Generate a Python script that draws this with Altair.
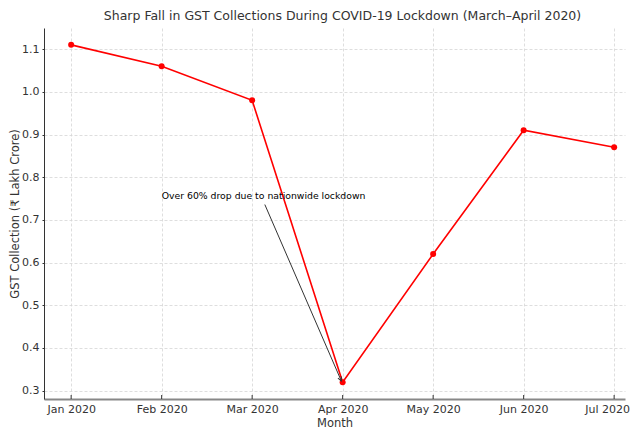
import altair as alt
import pandas as pd

months = ["Jan 2020", "Feb 2020", "Mar 2020", "Apr 2020", "May 2020", "Jun 2020", "Jul 2020"]
gst = [1.11, 1.06, 0.98, 0.32, 0.62, 0.91, 0.87]
y_ticks = [0.3, 0.4, 0.5, 0.6, 0.7, 0.8, 0.9, 1.0, 1.1]

note_text = ["Over 60% drop due to nationwide lockdown"]
note_x = [1.0]
note_y = [0.75]
arrow_x = [2.14]
arrow_y = [0.736]
arrow_x2 = [2.985]
arrow_y2 = [0.323]

FONT = "DejaVu Sans"
W, H = 581, 371

df = pd.DataFrame({"idx": list(range(len(months))), "month": months, "gst": gst})
label_expr = "[" + ",".join(f"'{m}'" for m in months) + "][datum.value]"

xscale = alt.Scale(domain=[-0.3, 6.12], nice=False, zero=False)
yscale = alt.Scale(domain=[0.2805, 1.1495], nice=False, zero=False)

X = alt.X("idx:Q", scale=xscale,
          axis=alt.Axis(values=list(range(7)), labelExpr=label_expr, title="Month",
                        tickSize=0, labelPadding=4, titlePadding=3,
                        labelOffset={"condition": {"test": "datum.value == 6", "value": -7}, "value": 0},
                        domainColor="#888888", domainWidth=2))
Y = alt.Y("gst:Q", scale=yscale,
          axis=alt.Axis(values=y_ticks, format=".1f",
                        title="GST Collection (₹ Lakh Crore)",
                        tickSize=2, labelPadding=3, titlePadding=1,
                        domainColor="#333333", domainWidth=1))

line = alt.Chart(df).mark_line(color="#ff0000", strokeWidth=1.6).encode(x=X, y=Y)
points = alt.Chart(df).mark_circle(color="#ff0000", size=36, opacity=1).encode(x=X, y=Y)

xt = pd.DataFrame({"idx": list(range(7))})
xticks = alt.Chart(xt).mark_rule(color="#333333", strokeWidth=1).encode(
    x=X, y=alt.value(H - 4), y2=alt.value(H),
)

note_df = pd.DataFrame({"t": note_text, "idx": note_x, "gst": note_y})
note = alt.Chart(note_df).mark_text(align="left", baseline="alphabetic", font=FONT,
                                    fontSize=9.3, color="#000000").encode(
    x=X, y=Y, text="t:N",
)

arr_df = pd.DataFrame({"idx": arrow_x, "gst": arrow_y, "idx2": arrow_x2, "gst2": arrow_y2})
arrow = alt.Chart(arr_df).mark_rule(color="#333333", strokeWidth=1).encode(
    x=X, y=Y, x2="idx2:Q", y2="gst2:Q",
)
head_df = pd.DataFrame({"idx": arrow_x2, "gst": arrow_y2})
head = alt.Chart(head_df).mark_point(
    shape="M-0.5,1L0,0L0.5,1", filled=False, color="#333333", strokeWidth=1,
    size=60, angle=156, opacity=1,
).encode(x=X, y=Y)

chart = alt.layer(line, points, xticks, arrow, head, note).properties(
    width=W, height=H,
    padding={"left": 36, "top": 20, "right": 6, "bottom": 31},
    autosize=alt.AutoSizeParams(type="none"),
    title=alt.TitleParams(
        "Sharp Fall in GST Collections During COVID-19 Lockdown (March–April 2020)",
        font=FONT, fontSize=12.5, fontWeight="normal", color="#333333",
        anchor="middle", dx=8, offset=6,
    ),
).configure_view(stroke=None).configure_axis(
    labelFont=FONT, labelFontSize=11, labelColor="#333333",
    titleFont=FONT, titleFontSize=11.5, titleFontWeight="normal", titleColor="#333333",
    gridColor="#d5d5d5", gridDash=[3, 2], gridWidth=0.8,
    tickColor="#333333",
)

chart.save("out.html", embed_options={"renderer": "svg", "actions": False})
